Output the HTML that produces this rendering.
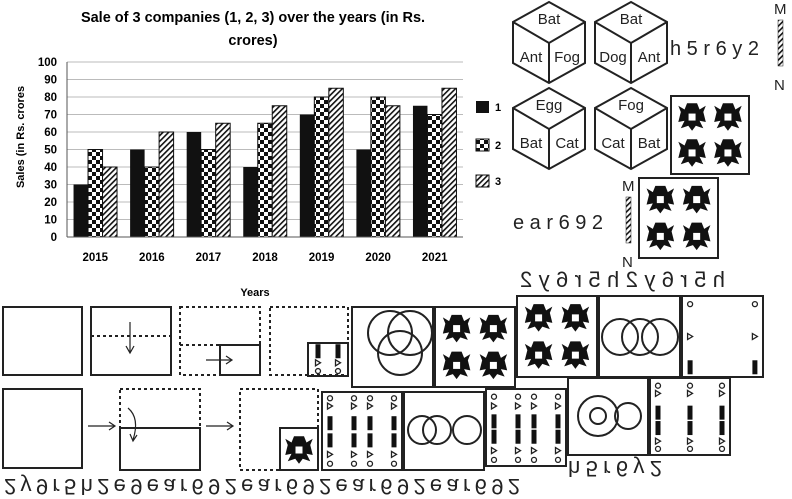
<!DOCTYPE html>
<html><head><meta charset="utf-8"><style>
html,body{margin:0;padding:0;background:#fff;}
svg{display:block;font-family:"Liberation Sans",sans-serif;}
.b{font-weight:bold;}
</style></head><body>
<svg id="s" width="792" height="499" viewBox="0 0 792 499">
<defs>
<pattern id="chk" width="8" height="8" patternUnits="userSpaceOnUse"><rect width="8" height="8" fill="#fff"/><rect width="4" height="4" fill="#111"/><rect x="4" y="4" width="4" height="4" fill="#111"/></pattern>
<pattern id="hat" width="4" height="4" patternUnits="userSpaceOnUse" patternTransform="rotate(45)"><rect width="4" height="4" fill="#fff"/><rect width="1.6" height="4" fill="#111"/></pattern>
<g id="star"><path d="M-4,-11 L4,-11 L6,-6 L11,-9 L9,-4 L11,4 L6,3 L9,9 L3,7 L0,11 L-3,7 L-9,9 L-6,3 L-11,4 L-9,-4 L-11,-9 L-6,-6 Z" fill="#111" transform="scale(1.25)"/><rect x="-3.5" y="-3.5" width="7" height="7" fill="#fff"/></g>
</defs>
<g id="chart">
<text x="253" y="22" text-anchor="middle" font-size="14.5" class="b">Sale of 3 companies (1, 2, 3) over the years (in Rs.</text>
<text x="253" y="45" text-anchor="middle" font-size="14.5" class="b">crores)</text>
<g id="grid"></g><g id="bars"></g><g id="axes"></g>
<text x="255" y="296" text-anchor="middle" font-size="11" class="b">Years</text>
<text transform="translate(24,137) rotate(-90)" text-anchor="middle" font-size="11" class="b">Sales (in Rs. crores</text>
<g>
<rect x="476" y="101" width="13" height="12" fill="#111"/><text x="495" y="111" font-size="11" class="b">1</text>
<rect x="476" y="139" width="13" height="12" fill="url(#chk)" stroke="#111"/><text x="495" y="149" font-size="11" class="b">2</text>
<rect x="476" y="175" width="13" height="12" fill="url(#hat)" stroke="#111"/><text x="495" y="185" font-size="11" class="b">3</text>
</g>
</g>
<g id="puz" stroke="#222" stroke-width="2" fill="none"></g>
<g id="txt"></g>
</svg>
<script>
const categories=["2015","2016","2017","2018","2019","2020","2021"];
const series1=[30,50,60,40,70,50,75];
const series2=[50,40,50,65,80,80,70];
const series3=[40,60,65,75,85,75,85];
const yTicks=[0,10,20,30,40,50,60,70,80,90,100];
const NS="http://www.w3.org/2000/svg";
function mk(t,a,p){const e=document.createElementNS(NS,t);for(const k in a)e.setAttribute(k,a[k]);p.appendChild(e);return e;}
const X0=67,X1=463,Y0=237,Y1=62;
function y(v){return Y0-(v/100)*(Y0-Y1);}
const cw=(X1-X0)/categories.length;
function x(i){return X0+cw*(i+0.5);}
const grid=document.getElementById('grid'),bars=document.getElementById('bars'),axes=document.getElementById('axes');
yTicks.forEach(t=>{
 const l=mk('line',{x1:X0,x2:X1,y1:y(t),y2:y(t),stroke:'#bbb','stroke-width':1},grid);
 
 
 const tx=mk('text',{x:X0-10,y:y(t)+4,'text-anchor':'end','font-size':11.5,'font-weight':'bold'},axes);tx.textContent=t;
 
 
});
mk('line',{x1:X0,x2:X0,y1:Y1,y2:Y0,stroke:'#555'},axes);
mk('line',{x1:X0,x2:X1,y1:Y0,y2:Y0,stroke:'#555'},axes);
const bw=14.5,fills=['#111','url(#chk)','url(#hat)'],S=[series1,series2,series3];
categories.forEach((c,i)=>{
 S.forEach((s,j)=>{
  const bx=x(i)-bw*1.5+bw*j;
  const r=mk('rect',{x:bx,y:y(s[i]),width:bw,height:Y0-y(s[i]),fill:fills[j],stroke:j?'#111':'none','stroke-width':1},bars);
  
  
 });
 const t=mk('text',{x:x(i),y:261,'text-anchor':'middle','font-size':11.5,'font-weight':'bold'},axes);t.textContent=c;
 
 
});
const P=document.getElementById('puz'),T=document.getElementById('txt');
function cube(cx,ty,top,l,r){
 const g=mk('g',{},P);
 
 
 mk('path',{d:`M${cx},${ty} L${cx+36},${ty+20} L${cx+36},${ty+61} L${cx},${ty+81} L${cx-36},${ty+61} L${cx-36},${ty+20} Z M${cx-36},${ty+20} L${cx},${ty+41} L${cx+36},${ty+20} M${cx},${ty+41} L${cx},${ty+81}`},g);
 [[top,cx,ty+22],[l,cx-18,ty+60],[r,cx+18,ty+60]].forEach(a=>{const t=mk('text',{x:a[1],y:a[2],'text-anchor':'middle','font-size':15,fill:'#222',stroke:'none'},g);t.textContent=a[0];});
}
cube(549,2,'Bat','Ant','Fog');cube(631,2,'Bat','Dog','Ant');
cube(549,88,'Egg','Bat','Cat');cube(631,88,'Fog','Cat','Bat');
function txt(s,xx,yy,fs,tr,name,len){const a={x:xx,y:yy,'font-size':fs,fill:'#222',transform:tr||''};if(len){a.textLength=len;a.lengthAdjust='spacing';}
 const t=mk('text',a,T);t.textContent=s;
 
 }
txt('h 5 r 6 y 2',670,55,20,'','code-text-1');
txt('e a r 6 9 2',513,229,20,'','code-text-2');
function mirror(xx,yy,name){
 const g=mk('g',{},P);
 const m=mk('text',{x:xx-6,y:yy,'font-size':15,fill:'#222',stroke:'none'},g);m.textContent='M';
 mk('rect',{x:xx-2,y:yy+6,width:5,height:46,fill:'url(#hat)','stroke-width':0.5},g);
 const n=mk('text',{x:xx-6,y:yy+76,'font-size':15,fill:'#222',stroke:'none'},g);n.textContent='N';
}
mirror(780,14,'mirror-line-1');mirror(628,191,'mirror-line-2');
function box(x1,y1,w,h,dash,name){const r=mk('rect',{x:x1,y:y1,width:w,height:h},P);if(dash)r.setAttribute('stroke-dasharray','3,3');
 return r;}
function stars(x1,y1,w,h){[[.27,.27],[.73,.27],[.27,.73],[.73,.73]].forEach(p=>mk('use',{href:'#star',transform:`translate(${x1+w*p[0]},${y1+h*p[1]})`,stroke:'none'},P));}
box(671,96,78,78,0,'option-box-stars');stars(671,96,78,78);
box(639,178,79,80,0,'option-box-stars-2');stars(639,178,79,80);
box(3,307,79,68,0,'paper-step-1');
box(91,307,80,68,0,'paper-step-2');mk('line',{x1:91,y1:336,x2:171,y2:336,'stroke-dasharray':'3,3'},P);
mk('path',{d:'M130,322 L130,352 M126,346 L130,353 L134,346','stroke-width':1.2},P);
box(180,307,80,68,1,'paper-step-3');mk('line',{x1:180,y1:345,x2:220,y2:345,'stroke-dasharray':'3,3'},P);box(220,345,40,30,0,'folded-part');
mk('path',{d:'M206,360 L232,360 M226,356 L232,360 L226,364','stroke-width':1.2},P);
box(270,307,78,68,1,'paper-step-4');box(308,343,40,33,0,'punched-part');
function sym(x1,y1,w,h,cols,rows){cols.forEach(cx=>{rows.forEach(r=>{const X=x1+w*cx,Y=y1+h*r[1];
 if(r[0]=='o')mk('circle',{cx:X,cy:Y,r:2.5,'stroke-width':1.3},P);
 else if(r[0]=='b')mk('rect',{x:X-2.5,y:Y-7,width:5,height:14,fill:'#111',stroke:'none'},P);
 else mk('path',{d:`M${X-2.5},${Y-3} L${X+2.5},${Y} L${X-2.5},${Y+3} Z`,'stroke-width':1.3},P);});});}
sym(308,343,40,33,[.25,.75],[['b',.25],['t',.6],['o',.85]]);
box(352,307,81,80,0,'option-a-circles');
[[390,333],[410,333],[400,353]].forEach(c=>mk('circle',{cx:c[0],cy:c[1],r:22},P));
box(435,307,80,80,0,'option-b-stars');stars(435,307,80,80);
box(517,296,80,81,0,'option-c-stars');stars(517,296,80,81);
box(599,296,81,81,0,'option-d-circles');
[620,640,660].forEach(cx=>mk('circle',{cx:cx,cy:337,r:18},P));
box(682,296,81,81,0,'option-e-symbols');sym(682,296,81,81,[.1,.9],[['o',.1],['t',.5],['b',.88]]);
box(3,389,79,79,0,'paper2-step-1');
mk('path',{d:'M88,426 L115,426 M109,422 L115,426 L109,430','stroke-width':1.2},P);
box(120,389,80,81,1,'paper2-step-2');box(120,428,80,42,0,'paper2-fold');
mk('path',{d:'M128,408 Q140,418 133,440 M130,434 L133,441 L137,435','stroke-width':1.2},P);
mk('path',{d:'M206,426 L233,426 M227,422 L233,426 L227,430','stroke-width':1.2},P);
box(240,389,78,81,1,'paper2-step-3');box(280,428,38,42,0,'paper2-punch');mk('use',{href:'#star',transform:'translate(299,450)',stroke:'none'},P);
box(322,392,80,78,0,'option2-a-symbols');sym(322,392,80,78,[.1,.4,.6,.9],[['o',.08],['t',.18],['b',.4],['b',.62],['t',.8],['o',.92]]);
box(404,392,80,78,0,'option2-b-circles');[[422,430],[437,430],[467,430]].forEach(c=>mk('circle',{cx:c[0],cy:c[1],r:14},P));
box(486,389,80,77,0,'option2-c-symbols');sym(486,389,80,77,[.1,.4,.6,.9],[['o',.1],['t',.22],['b',.42],['b',.62],['t',.8],['o',.92]]);
box(568,378,80,77,0,'option2-d-circles');mk('circle',{cx:598,cy:416,r:20},P);mk('circle',{cx:598,cy:416,r:8},P);mk('circle',{cx:628,cy:416,r:13},P);
box(650,378,80,77,0,'option2-e-symbols');sym(650,378,80,77,[.1,.5,.9],[['o',.1],['t',.2],['b',.45],['b',.65],['t',.82],['o',.92]]);
txt('h5r6y2h5r6y2',-725,287,22,'scale(-1,1)','mirrored-code-top',205);
txt('2y9r5h2e9ear692ear692ear692ear692',4,-479,22,'scale(1,-1)','flipped-code-bottom',516);
txt('h5r6y2',568,-461,22,'scale(1,-1)','flipped-code-right',94);
</script>
</body></html>
